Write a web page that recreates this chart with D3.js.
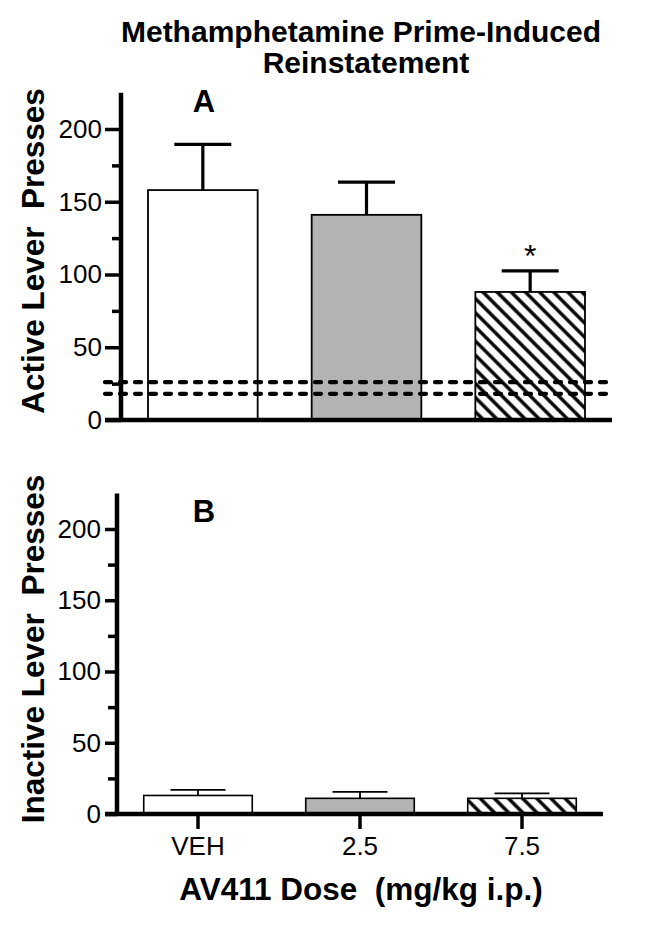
<!DOCTYPE html>
<html>
<head>
<meta charset="utf-8">
<script src="https://cdn.jsdelivr.net/npm/d3@7"></script>
<style>
  html, body { margin: 0; padding: 0; background: #fff; }
  svg { display: block; font-family: "Liberation Sans", Arial, Helvetica, sans-serif; }
</style>
</head>
<body>
<svg id="chart" width="646" height="929"></svg>
<script>
// ---- data ----
const categories = ["VEH", "2.5", "7.5"];
const activeMean = [158, 141, 88];
const activeSEM = [31.5, 22.5, 14.5];
const inactiveMean = [13, 11, 11];
const inactiveSEM = [4, 4.5, 3.5];
const baselineLines = [18, 26];
const significant = [false, false, true];
const majorTicks = [0, 50, 100, 150, 200];
const minorTicks = [25, 75, 125, 175];
const fills = ["#ffffff", "#b3b3b3", "url(#hatch)"];
const titleLines = ["Methamphetamine Prime-Induced", "Reinstatement"];

const svg = d3.select("#chart");
const defs = svg.append("defs");
const pat = defs.append("pattern")
  .attr("id", "hatch")
  .attr("patternUnits", "userSpaceOnUse")
  .attr("width", 10).attr("height", 10)
  .attr("patternTransform", "rotate(-45)");
pat.append("rect").attr("width", 10).attr("height", 10).attr("fill", "#fff");
pat.append("line").attr("x1", 5).attr("x2", 5).attr("y1", 0).attr("y2", 10)
  .attr("stroke", "#000").attr("stroke-width", 3.4);

// title
svg.append("text").attr("x", 361).attr("y", 42).attr("text-anchor", "middle")
  .attr("font-size", 30).attr("font-weight", "bold").text(titleLines[0]);
svg.append("text").attr("x", 366).attr("y", 73).attr("text-anchor", "middle")
  .attr("font-size", 30).attr("font-weight", "bold").text(titleLines[1]);

function panel(cfg) {
  const g = svg.append("g");
  const y = d3.scaleLinear().domain([0, 225]).range([cfg.y0, cfg.y0 - 225 * cfg.k]);
  const x = d3.scaleBand().domain(categories).range([cfg.ax, cfg.xEnd])
    .paddingInner(0.33).paddingOuter(0.165);

  // bars
  g.selectAll("rect.bar").data(categories).join("rect")
    .attr("class", "bar")
    .attr("x", d => x(d))
    .attr("width", x.bandwidth())
    .attr("y", (d, i) => y(cfg.mean[i]))
    .attr("height", (d, i) => y(0) - y(cfg.mean[i]))
    .attr("fill", (d, i) => fills[i])
    .attr("stroke", "#000").attr("stroke-width", cfg.barStroke);

  // error bars (upper)
  categories.forEach((c, i) => {
    const cx = x(c) + x.bandwidth() / 2;
    g.append("line").attr("x1", cx).attr("x2", cx)
      .attr("y1", y(cfg.mean[i])).attr("y2", y(cfg.mean[i] + cfg.sem[i]))
      .attr("stroke", "#000").attr("stroke-width", cfg.errStroke);
    g.append("line").attr("x1", cx - cfg.cap / 2).attr("x2", cx + cfg.cap / 2)
      .attr("y1", y(cfg.mean[i] + cfg.sem[i])).attr("y2", y(cfg.mean[i] + cfg.sem[i]))
      .attr("stroke", "#000").attr("stroke-width", cfg.errStroke);
  });

  // dashed baseline lines
  if (cfg.dashed) {
    g.selectAll("line.dash").data(baselineLines).join("line")
      .attr("class", "dash")
      .attr("x1", cfg.xStart).attr("x2", cfg.xEnd)
      .attr("y1", d => y(d)).attr("y2", d => y(d))
      .attr("stroke", "#000").attr("stroke-width", 4.2)
      .attr("stroke-dasharray", "6,9").attr("stroke-linecap", "round");
  }

  // significance
  if (cfg.stars) {
    categories.forEach((c, i) => {
      if (!significant[i]) return;
      g.append("text").attr("x", x(c) + x.bandwidth() / 2)
        .attr("y", y(cfg.mean[i] + cfg.sem[i]) - 4)
        .attr("text-anchor", "middle").attr("font-size", 32).text("*");
    });
  }

  // y axis major
  const yAxis = d3.axisLeft(y).tickValues(majorTicks).tickSize(cfg.tickLen)
    .tickPadding(cfg.tickPad).tickFormat(d3.format("d"));
  const ga = g.append("g").attr("transform", `translate(${cfg.ax},0)`).call(yAxis);
  ga.select(".domain").remove();
  ga.selectAll(".tick line").attr("stroke-width", 3.5);
  ga.selectAll(".tick text").attr("font-size", 26).attr("font-family", "Liberation Sans, Arial, sans-serif")
    .attr("fill", "#000");
  // y axis minor
  const yMinor = d3.axisLeft(y).tickValues(minorTicks).tickSize(9).tickFormat("");
  const gm = g.append("g").attr("transform", `translate(${cfg.ax},0)`).call(yMinor);
  gm.select(".domain").remove();
  gm.selectAll(".tick line").attr("stroke-width", 3.5);

  // axis lines
  g.append("line").attr("x1", cfg.ax).attr("x2", cfg.ax)
    .attr("y1", y(225)).attr("y2", y(0) + 2)
    .attr("stroke", "#000").attr("stroke-width", 4.5);
  g.append("line").attr("x1", cfg.xStart).attr("x2", cfg.xEnd)
    .attr("y1", y(0)).attr("y2", y(0))
    .attr("stroke", "#000").attr("stroke-width", 4.5);

  // x ticks & labels
  if (cfg.xTicks) {
    const xAxis = d3.axisBottom(x).tickSize(13).tickPadding(8);
    const gx = g.append("g").attr("transform", `translate(0,${y(0) + 2})`).call(xAxis);
    gx.select(".domain").remove();
    gx.selectAll(".tick line").attr("stroke-width", 3.5);
    gx.selectAll(".tick text").attr("font-size", 26).attr("fill", "#000")
      .attr("font-family", "Liberation Sans, Arial, sans-serif");
  }

  // panel letter
  g.append("text").attr("x", cfg.letterX).attr("y", cfg.letterY).attr("text-anchor", "middle")
    .attr("font-size", 31).attr("font-weight", "bold").text(cfg.letter);

  // y title
  g.append("text")
    .attr("transform", `translate(44,${cfg.titleY}) rotate(-90)`)
    .attr("text-anchor", "middle").attr("font-size", 31.5).attr("font-weight", "bold")
    .attr("xml:space", "preserve")
    .text(cfg.yTitle);
  return { x, y };
}

panel({
  y0: 420, k: 1.455, ax: 121, xStart: 105, xEnd: 612,
  mean: activeMean, sem: activeSEM, barStroke: 1.8, errStroke: 3.2, cap: 57,
  dashed: true, stars: true, tickLen: 16, tickPad: 3, xTicks: false,
  letter: "A", letterX: 204, letterY: 112,
  yTitle: "Active Lever  Presses", titleY: 251
});

panel({
  y0: 814, k: 1.425, ax: 117, xStart: 105, xEnd: 603,
  mean: inactiveMean, sem: inactiveSEM, barStroke: 1.6, errStroke: 1.8, cap: 55,
  dashed: false, stars: false, tickLen: 12, tickPad: 4, xTicks: true,
  letter: "B", letterX: 204, letterY: 522,
  yTitle: "Inactive Lever  Presses", titleY: 649
});

// x axis title
svg.append("text").attr("x", 361).attr("y", 900).attr("text-anchor", "middle")
  .attr("font-size", 31.5).attr("font-weight", "bold")
  .attr("xml:space", "preserve")
  .text("AV411 Dose  (mg/kg i.p.)");
</script>
</body>
</html>
